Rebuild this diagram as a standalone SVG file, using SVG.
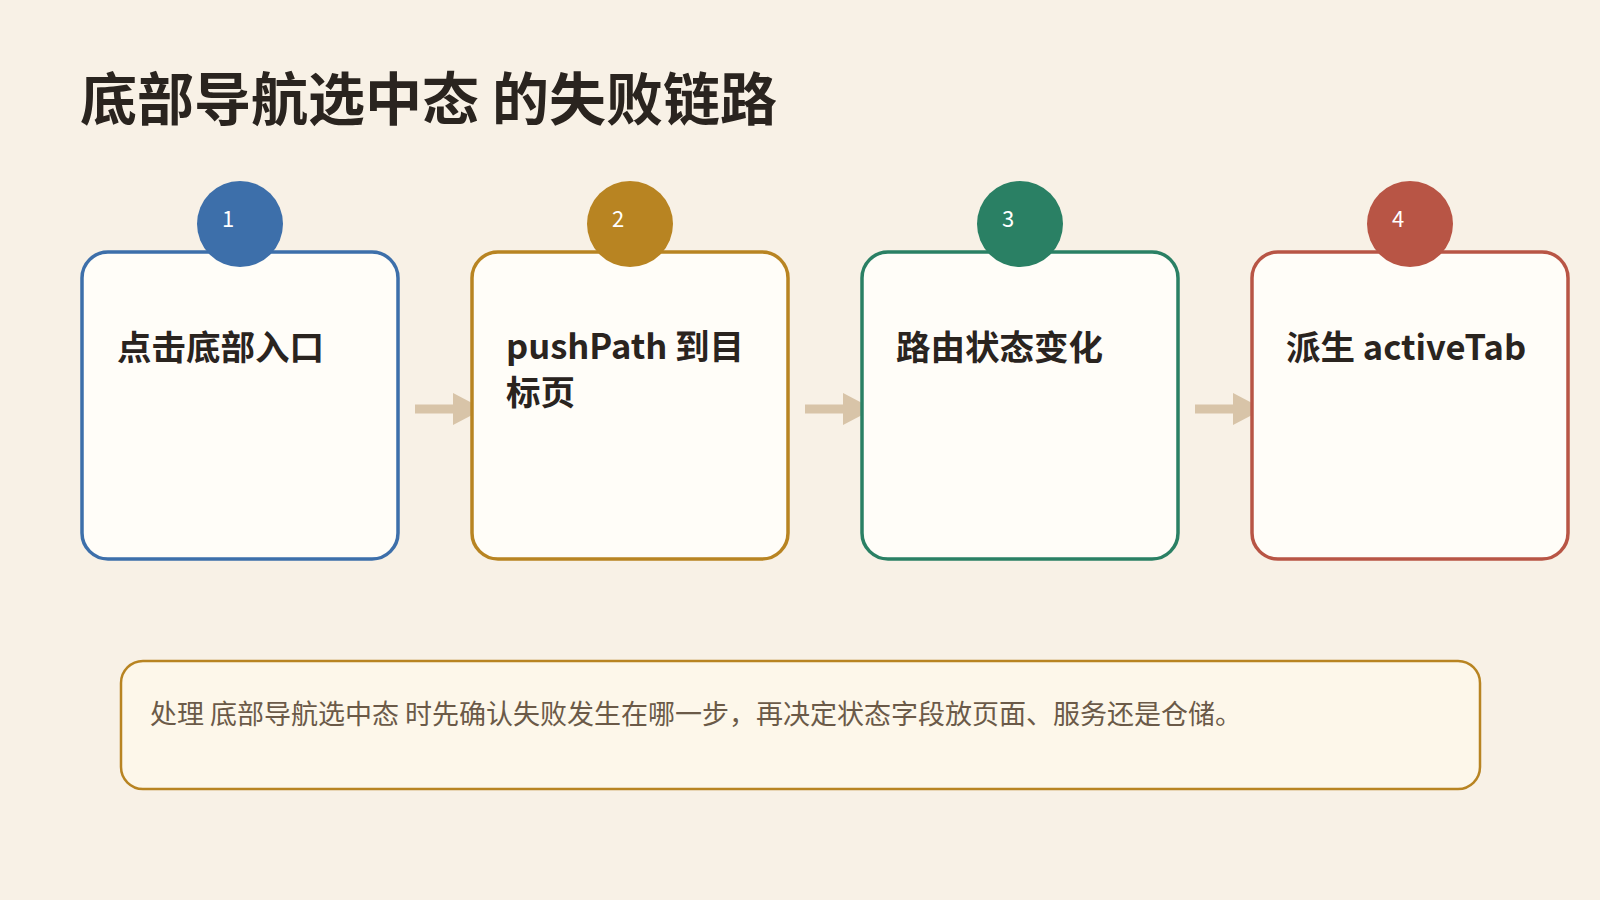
<svg xmlns="http://www.w3.org/2000/svg" width="1600" height="900" viewBox="0 0 1600 900">
<style>
.t{font-family:"Noto Sans CJK SC","Noto Sans",sans-serif}
.box{fill:#fffdf8;stroke-width:3.5}
.lbl{font-size:34.5px;font-weight:700;fill:#2a241f}
.num{font-size:22px;fill:#fff}
.arr{stroke:#d8c4a8;stroke-width:9}
</style>
<defs><marker id="ah" markerWidth="3.4" markerHeight="3.6" refX="1.7" refY="1.8" orient="auto" markerUnits="strokeWidth"><path d="M0,0L3.4,1.8L0,3.6Z" fill="#d8c4a8"/></marker></defs>
<rect width="1600" height="900" fill="#f8f1e6"/>
<text class="t" x="80" y="120" font-size="57" font-weight="700" fill="#2a241f">底部导航选中态 的失败链路</text>
<g id="connectors">
<line class="arr" x1="415" y1="409" x2="468" y2="409" marker-end="url(#ah)"/>
<line class="arr" x1="805" y1="409" x2="858" y2="409" marker-end="url(#ah)"/>
<line class="arr" x1="1195" y1="409" x2="1248" y2="409" marker-end="url(#ah)"/>
</g>
<g id="n1"><rect class="box" x="82" y="252" width="316" height="307" rx="26" stroke="#3d6faa"/><circle cx="240" cy="224" r="43" fill="#3d6faa"/><text class="t num" x="222" y="227">1</text><text class="t lbl" x="117" y="360">点击底部入口</text></g>
<g id="n2"><rect class="box" x="472" y="252" width="316" height="307" rx="26" stroke="#b88422"/><circle cx="630" cy="224" r="43" fill="#b88422"/><text class="t num" x="612" y="227">2</text><text class="t lbl" x="506" y="359">pushPath 到目</text><text class="t lbl" x="506" y="405">标页</text></g>
<g id="n3"><rect class="box" x="862" y="252" width="316" height="307" rx="26" stroke="#2a8064"/><circle cx="1020" cy="224" r="43" fill="#2a8064"/><text class="t num" x="1002" y="227">3</text><text class="t lbl" x="896" y="360">路由状态变化</text></g>
<g id="n4"><rect class="box" x="1252" y="252" width="316" height="307" rx="26" stroke="#b85545"/><circle cx="1410" cy="224" r="43" fill="#b85545"/><text class="t num" x="1392" y="227">4</text><text class="t lbl" x="1286" y="360">派生 activeTab</text></g>
<g id="note"><rect x="121" y="661" width="1359" height="128" rx="22" fill="#fdf7ea" stroke="#b88422" stroke-width="2.5"/><text class="t" x="150" y="724" font-size="27" fill="#6b5a48">处理 底部导航选中态 时先确认失败发生在哪一步，再决定状态字段放页面、服务还是仓储。</text></g>
</svg>
